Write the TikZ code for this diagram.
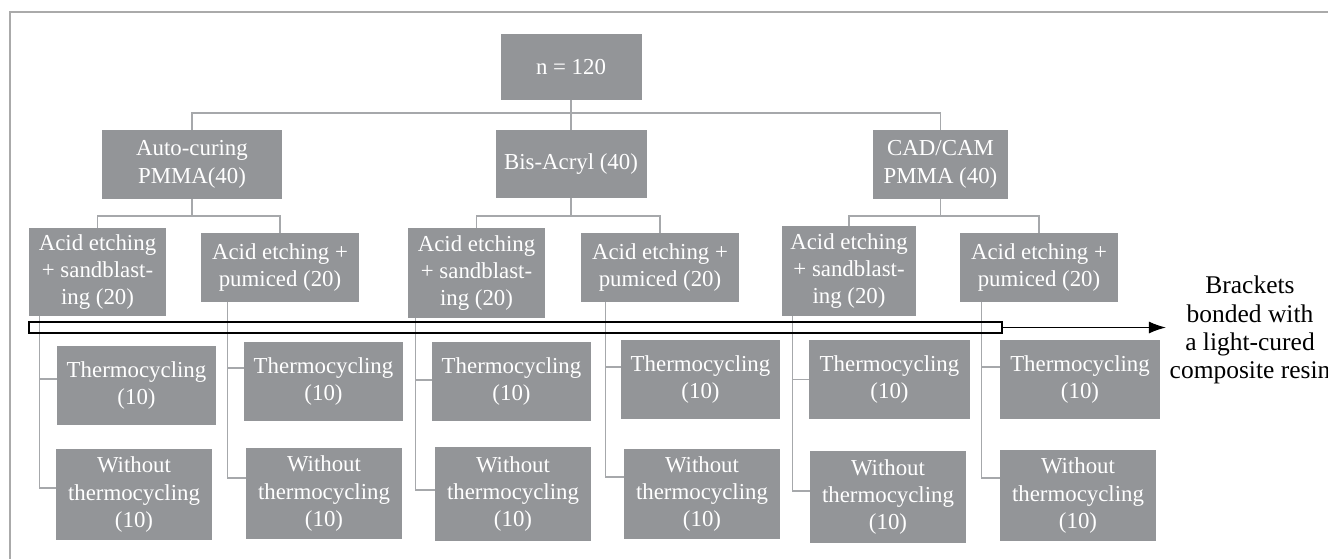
\documentclass[tikz,border=0pt]{standalone}
\usepackage{fontspec}
\setmainfont{Liberation Serif}
\usetikzlibrary{arrows.meta}
\definecolor{boxgray}{RGB}{147,149,152}
\definecolor{linkgray}{RGB}{166,168,171}
\definecolor{framegray}{RGB}{170,170,170}
\begin{document}
\begin{tikzpicture}[x=0.02cm,y=-0.02cm,
        font=\fontsize{13}{15.6}\selectfont,
        grpbox/.style 2 args={fill=boxgray,text=white,align=center,inner sep=0pt,
                minimum width=#1*0.02cm,minimum height=#2*0.02cm},
        link/.style={draw=linkgray,line width=0.6pt},
        band/.style={draw=black,line width=0.6pt,inner sep=0pt,
                minimum width=973*0.02cm,minimum height=11*0.02cm}]
        \newcommand{\figpx}{0.02cm}
        \useasboundingbox (0,0) rectangle (1328,559);
        % frame
        \draw[framegray,line width=1.1pt] (10,559) -- (10,12) -- (1328,12);
        % top levels
        \node[grpbox={141}{66}] (root) at (571,67) {n = 120};
        \node[grpbox={180}{69}] (auto) at (192,164.5) {Auto-curing\\PMMA(40)};
        \node[grpbox={151}{68}] (bis) at (571,164) {Bis-Acryl (40)};
        \node[grpbox={135}{69}] (cad) at (940.5,164.5) {CAD/CAM\\PMMA (40)};
        % surface treatments
        \node[grpbox={137}{88}] (autoA) at (97.5,272) {Acid etching\\+ sandblast-\\ing (20)};
        \node[grpbox={158}{69}] (autoB) at (280,267.5) {Acid etching +\\pumiced (20)};
        \node[grpbox={137}{90}] (bisA) at (476.5,273) {Acid etching\\+ sandblast-\\ing (20)};
        \node[grpbox={158}{69}] (bisB) at (660,267.5) {Acid etching +\\pumiced (20)};
        \node[grpbox={134}{90}] (cadA) at (849,271) {Acid etching\\+ sandblast-\\ing (20)};
        \node[grpbox={158}{69}] (cadB) at (1039,267.5) {Acid etching +\\pumiced (20)};
        % ageing
        \node[grpbox={159}{79}] (autoAT) at (136.5,385.5) {Thermocycling\\(10)};
        \node[grpbox={156}{91}] (autoAW) at (134,494.5) {Without\\thermocycling\\(10)};
        \node[grpbox={159}{79}] (autoBT) at (323.5,381.5) {Thermocycling\\(10)};
        \node[grpbox={156}{91}] (autoBW) at (324,493.5) {Without\\thermocycling\\(10)};
        \node[grpbox={159}{79}] (bisAT) at (511.5,381.5) {Thermocycling\\(10)};
        \node[grpbox={156}{94}] (bisAW) at (513,494) {Without\\thermocycling\\(10)};
        \node[grpbox={159}{79}] (bisBT) at (700.5,379.5) {Thermocycling\\(10)};
        \node[grpbox={156}{90}] (bisBW) at (702,494) {Without\\thermocycling\\(10)};
        \node[grpbox={161}{79}] (cadAT) at (889.5,379.5) {Thermocycling\\(10)};
        \node[grpbox={156}{92}] (cadAW) at (888,497) {Without\\thermocycling\\(10)};
        \node[grpbox={160}{79}] (cadBT) at (1080,379.5) {Thermocycling\\(10)};
        \node[grpbox={156}{91}] (cadBW) at (1078,495.5) {Without\\thermocycling\\(10)};
        % tree links
        \coordinate (topbus) at (571,113);
        \coordinate (autobus) at (192,216);
        \coordinate (bisbus) at (571,216);
        \coordinate (cadbus) at (940.5,216);
        \draw[link] (root) -- (topbus);
        \draw[link] (auto.north) |- (topbus) -| (cad.north);
        \draw[link] (bis) -- (topbus);
        \draw[link] (auto) -- (autobus);
        \draw[link] (autoA.north) |- (autobus) -| (autoB.north);
        \draw[link] (bis) -- (bisbus);
        \draw[link] (bisA.north) |- (bisbus) -| (bisB.north);
        \draw[link] (cad) -- (cadbus);
        \draw[link] (cadA.north) |- (cadbus) -| (cadB.north);
        \draw[link] ([xshift=11*\figpx]autoA.south west) |- ([yshift=6.5*\figpx]autoAT.west);
        \draw[link] ([xshift=11*\figpx]autoA.south west) |- ([yshift=6.5*\figpx]autoAW.west);
        \draw[link] ([xshift=27*\figpx]autoB.south west) |- ([yshift=13.5*\figpx]autoBT.west);
        \draw[link] ([xshift=27*\figpx]autoB.south west) |- ([yshift=15.5*\figpx]autoBW.west);
        \draw[link] ([xshift=8*\figpx]bisA.south west) |- ([yshift=1.5*\figpx]bisAT.west);
        \draw[link] ([xshift=8*\figpx]bisA.south west) |- ([yshift=4*\figpx]bisAW.west);
        \draw[link] ([xshift=25*\figpx]bisB.south west) |- ([yshift=12.5*\figpx]bisBT.west);
        \draw[link] ([xshift=25*\figpx]bisB.south west) |- ([yshift=17*\figpx]bisBW.west);
        \draw[link] ([xshift=11*\figpx]cadA.south west) |- (cadAT.west);
        \draw[link] ([xshift=11*\figpx]cadA.south west) |- ([yshift=6*\figpx]cadAW.west);
        \draw[link] ([xshift=22*\figpx]cadB.south west) |- ([yshift=12.5*\figpx]cadBT.west);
        \draw[link] ([xshift=22*\figpx]cadB.south west) |- ([yshift=17.5*\figpx]cadBW.west);
        % bonding step
        \node[band] (band) at (515.5,327.5) {};
        \node[align=center,text=black,inner sep=2pt,font=\fontsize{14.5}{16}\selectfont] (note) at (1250,330) {Brackets\\bonded with\\a light-cured\\composite resin};
        \draw[line width=0.6pt,-{Latex[length=0.34cm,width=0.24cm]}] (band.east) -- (band.east -| note.west);
\end{tikzpicture}
\end{document}
